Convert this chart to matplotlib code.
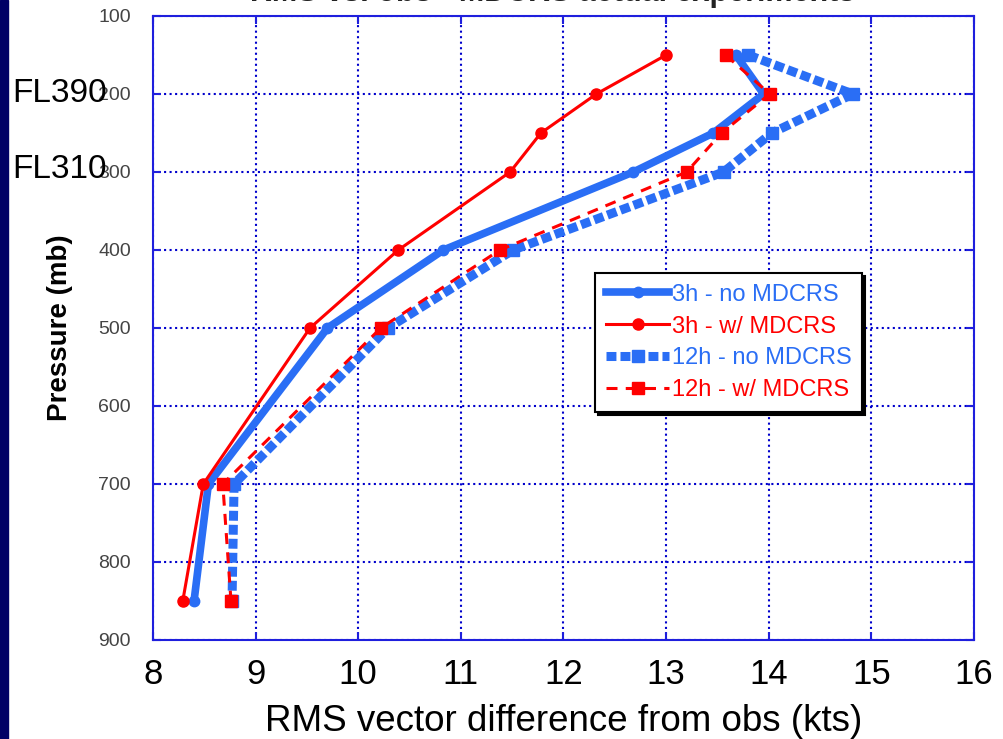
import matplotlib.pyplot as plt
from matplotlib.patches import Rectangle

# pressure levels (mb) and RMS vector difference (kts) per experiment
pressure = [150, 200, 250, 300, 400, 500, 700, 850]
rms_3h_no = [13.68, 13.95, 13.46, 12.68, 10.83, 9.70, 8.54, 8.40]
rms_3h_w = [13.00, 12.32, 11.78, 11.48, 10.39, 9.53, 8.49, 8.29]
rms_12h_no = [13.80, 14.82, 14.03, 13.56, 11.51, 10.29, 8.79, 8.77]
rms_12h_w = [13.58, 14.01, 13.54, 13.20, 11.38, 10.22, 8.68, 8.76]

labels = ['3h - no MDCRS', '3h - w/ MDCRS', '12h - no MDCRS', '12h - w/ MDCRS']
x_ticks = [8, 9, 10, 11, 12, 13, 14, 15, 16]
y_ticks = [100, 200, 300, 400, 500, 600, 700, 800, 900]

blue = '#2a6ef5'
red = '#ff0000'
frame_blue = '#1f1fdd'

plt.rcParams['font.family'] = ['Liberation Sans', 'DejaVu Sans']

fig = plt.figure(figsize=(10.04, 7.39), dpi=100)
fig.patches.append(Rectangle((0, 0), 8 / 1004, 1, transform=fig.transFigure,
                             color='#000066', zorder=0))

ax = fig.add_axes([153 / 1004, 1 - 640 / 739, 821 / 1004, 624 / 739])

# drawing order: blue dashed under, red dashed on top
l3 = ax.plot(rms_12h_no, pressure, color=blue, lw=6.5, dashes=(1.1, 0.45),
             marker='s', ms=9, label=labels[2], zorder=3)[0]
l1 = ax.plot(rms_3h_no, pressure, color=blue, lw=5.5, marker='o', ms=7.5,
             label=labels[0], zorder=4)[0]
l2 = ax.plot(rms_3h_w, pressure, color=red, lw=2.2, marker='o', ms=8,
             label=labels[1], zorder=5)[0]
l4 = ax.plot(rms_12h_w, pressure, color=red, lw=2.2, dashes=(3.6, 2.7),
             marker='s', ms=9, label=labels[3], zorder=6)[0]

ax.set_xlim(8, 16)
ax.set_ylim(900, 100)
ax.set_xticks(x_ticks)
ax.set_yticks(y_ticks)
ax.set_yticklabels([str(v) for v in y_ticks], fontsize=14, color='#444444')
ax.set_xticklabels([str(v) for v in x_ticks], fontsize=25, color='black')

ax.grid(True, color='#0000cc', linestyle=':', lw=1.5)
ax.set_axisbelow(True)
for s in ax.spines.values():
    s.set_color(frame_blue)
    s.set_linewidth(1.5)
ax.tick_params(axis='both', direction='in', length=6, width=1.5,
               color=frame_blue, top=True, right=True)
ax.tick_params(axis='x', pad=13)
ax.tick_params(axis='y', pad=16)

ax.set_xlabel('RMS vector difference from obs (kts)', fontsize=26.5, labelpad=9)
ax.set_ylabel('Pressure (mb)', fontsize=20, fontweight='bold')
ax.yaxis.set_label_coords(-0.0975, 0.5)

leg = ax.legend(handles=[l1, l2, l3, l4], loc='upper left',
                bbox_to_anchor=(595 / 1004, 1 - 273 / 739),
                bbox_transform=fig.transFigure, borderaxespad=0,
                fontsize=17, labelcolor='linecolor', numpoints=1,
                handlelength=2.7, handletextpad=0.1, labelspacing=0.42,
                borderpad=0.45, fancybox=False, framealpha=1,
                shadow={'color': 'black', 'alpha': 1})
leg.get_frame().set_edgecolor('black')
leg.get_frame().set_linewidth(1.5)

# flight level annotations
fig.text(12 / 1004, 1 - 93 / 739, 'FL390', fontsize=24, va='center', ha='left')
fig.text(12 / 1004, 1 - 170 / 739, 'FL310', fontsize=24, va='center', ha='left')

# title cut off at the top of the slide
fig.text(0.55, 1 - 1 / 739, 'RMS vs. obs - MDCRS actual experiments',
         fontsize=22, fontweight='bold', ha='center', va='baseline',
         color='#222222')

fig.savefig('out.png', dpi=100)
